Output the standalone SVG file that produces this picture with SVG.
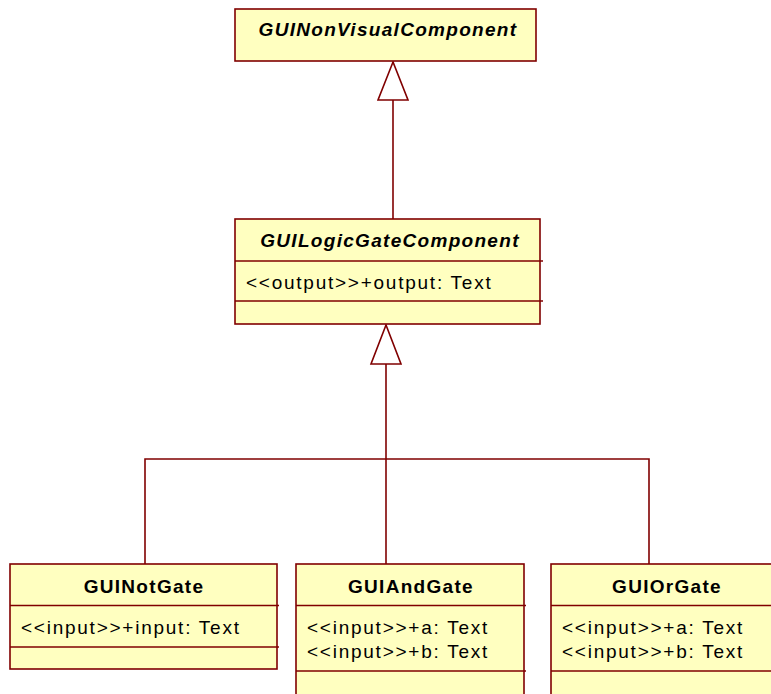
<svg xmlns="http://www.w3.org/2000/svg" width="771" height="694" viewBox="0 0 771 694">
<style>
.box{fill:#ffffc0;stroke:#800000;stroke-width:1.6}
.div{stroke:#800000;stroke-width:1.6}
.t{font-family:"Liberation Sans",Arial,sans-serif;font-size:19px;fill:#000;letter-spacing:1.75px}
.title{font-weight:bold;text-anchor:middle;letter-spacing:1.3px}
.abs{font-style:italic}
.conn{fill:none;stroke:#800000;stroke-width:1.6}
.tri{fill:#fff;stroke:#800000;stroke-width:1.6}
</style>
<rect width="771" height="694" fill="#fff"/>
<g id="connectors">
<line class="conn" x1="393" y1="100" x2="393" y2="219"/>
<polygon class="tri" points="393,62 378,100 408,100"/>
<polyline class="conn" points="145,564 145,459 649,459 649,564"/>
<line class="conn" x1="386" y1="364" x2="386" y2="564"/>
<polygon class="tri" points="386,325 371,364 401,364"/>
</g>
<g id="GUINonVisualComponent">
<rect class="box" x="235" y="9" width="301" height="52"/>
<text class="t title abs" x="388" y="36">GUINonVisualComponent</text>
</g>
<g id="GUILogicGateComponent">
<rect class="box" x="235" y="219" width="305" height="105"/>
<line class="div" x1="235" y1="261" x2="543" y2="261"/>
<line class="div" x1="235" y1="301" x2="543" y2="301"/>
<text class="t title abs" x="390" y="247">GUILogicGateComponent</text>
<text class="t" x="246" y="289">&lt;&lt;output&gt;&gt;+output: Text</text>
</g>
<g id="GUINotGate">
<rect class="box" x="10" y="564" width="267" height="105"/>
<line class="div" x1="10" y1="605.5" x2="279" y2="605.5"/>
<line class="div" x1="10" y1="647" x2="279" y2="647"/>
<text class="t title" x="144" y="593">GUINotGate</text>
<text class="t" x="21" y="634">&lt;&lt;input&gt;&gt;+input: Text</text>
</g>
<g id="GUIAndGate">
<rect class="box" x="296" y="564" width="228" height="140"/>
<line class="div" x1="296" y1="605.5" x2="526" y2="605.5"/>
<line class="div" x1="296" y1="671" x2="526" y2="671"/>
<text class="t title" x="411" y="593">GUIAndGate</text>
<text class="t" x="307" y="634">&lt;&lt;input&gt;&gt;+a: Text</text>
<text class="t" x="307" y="658">&lt;&lt;input&gt;&gt;+b: Text</text>
</g>
<g id="GUIOrGate">
<rect class="box" x="551" y="564" width="240" height="140"/>
<line class="div" x1="551" y1="605.5" x2="771" y2="605.5"/>
<line class="div" x1="551" y1="671" x2="771" y2="671"/>
<text class="t title" x="667" y="593">GUIOrGate</text>
<text class="t" x="562" y="634">&lt;&lt;input&gt;&gt;+a: Text</text>
<text class="t" x="562" y="658">&lt;&lt;input&gt;&gt;+b: Text</text>
</g>
</svg>
